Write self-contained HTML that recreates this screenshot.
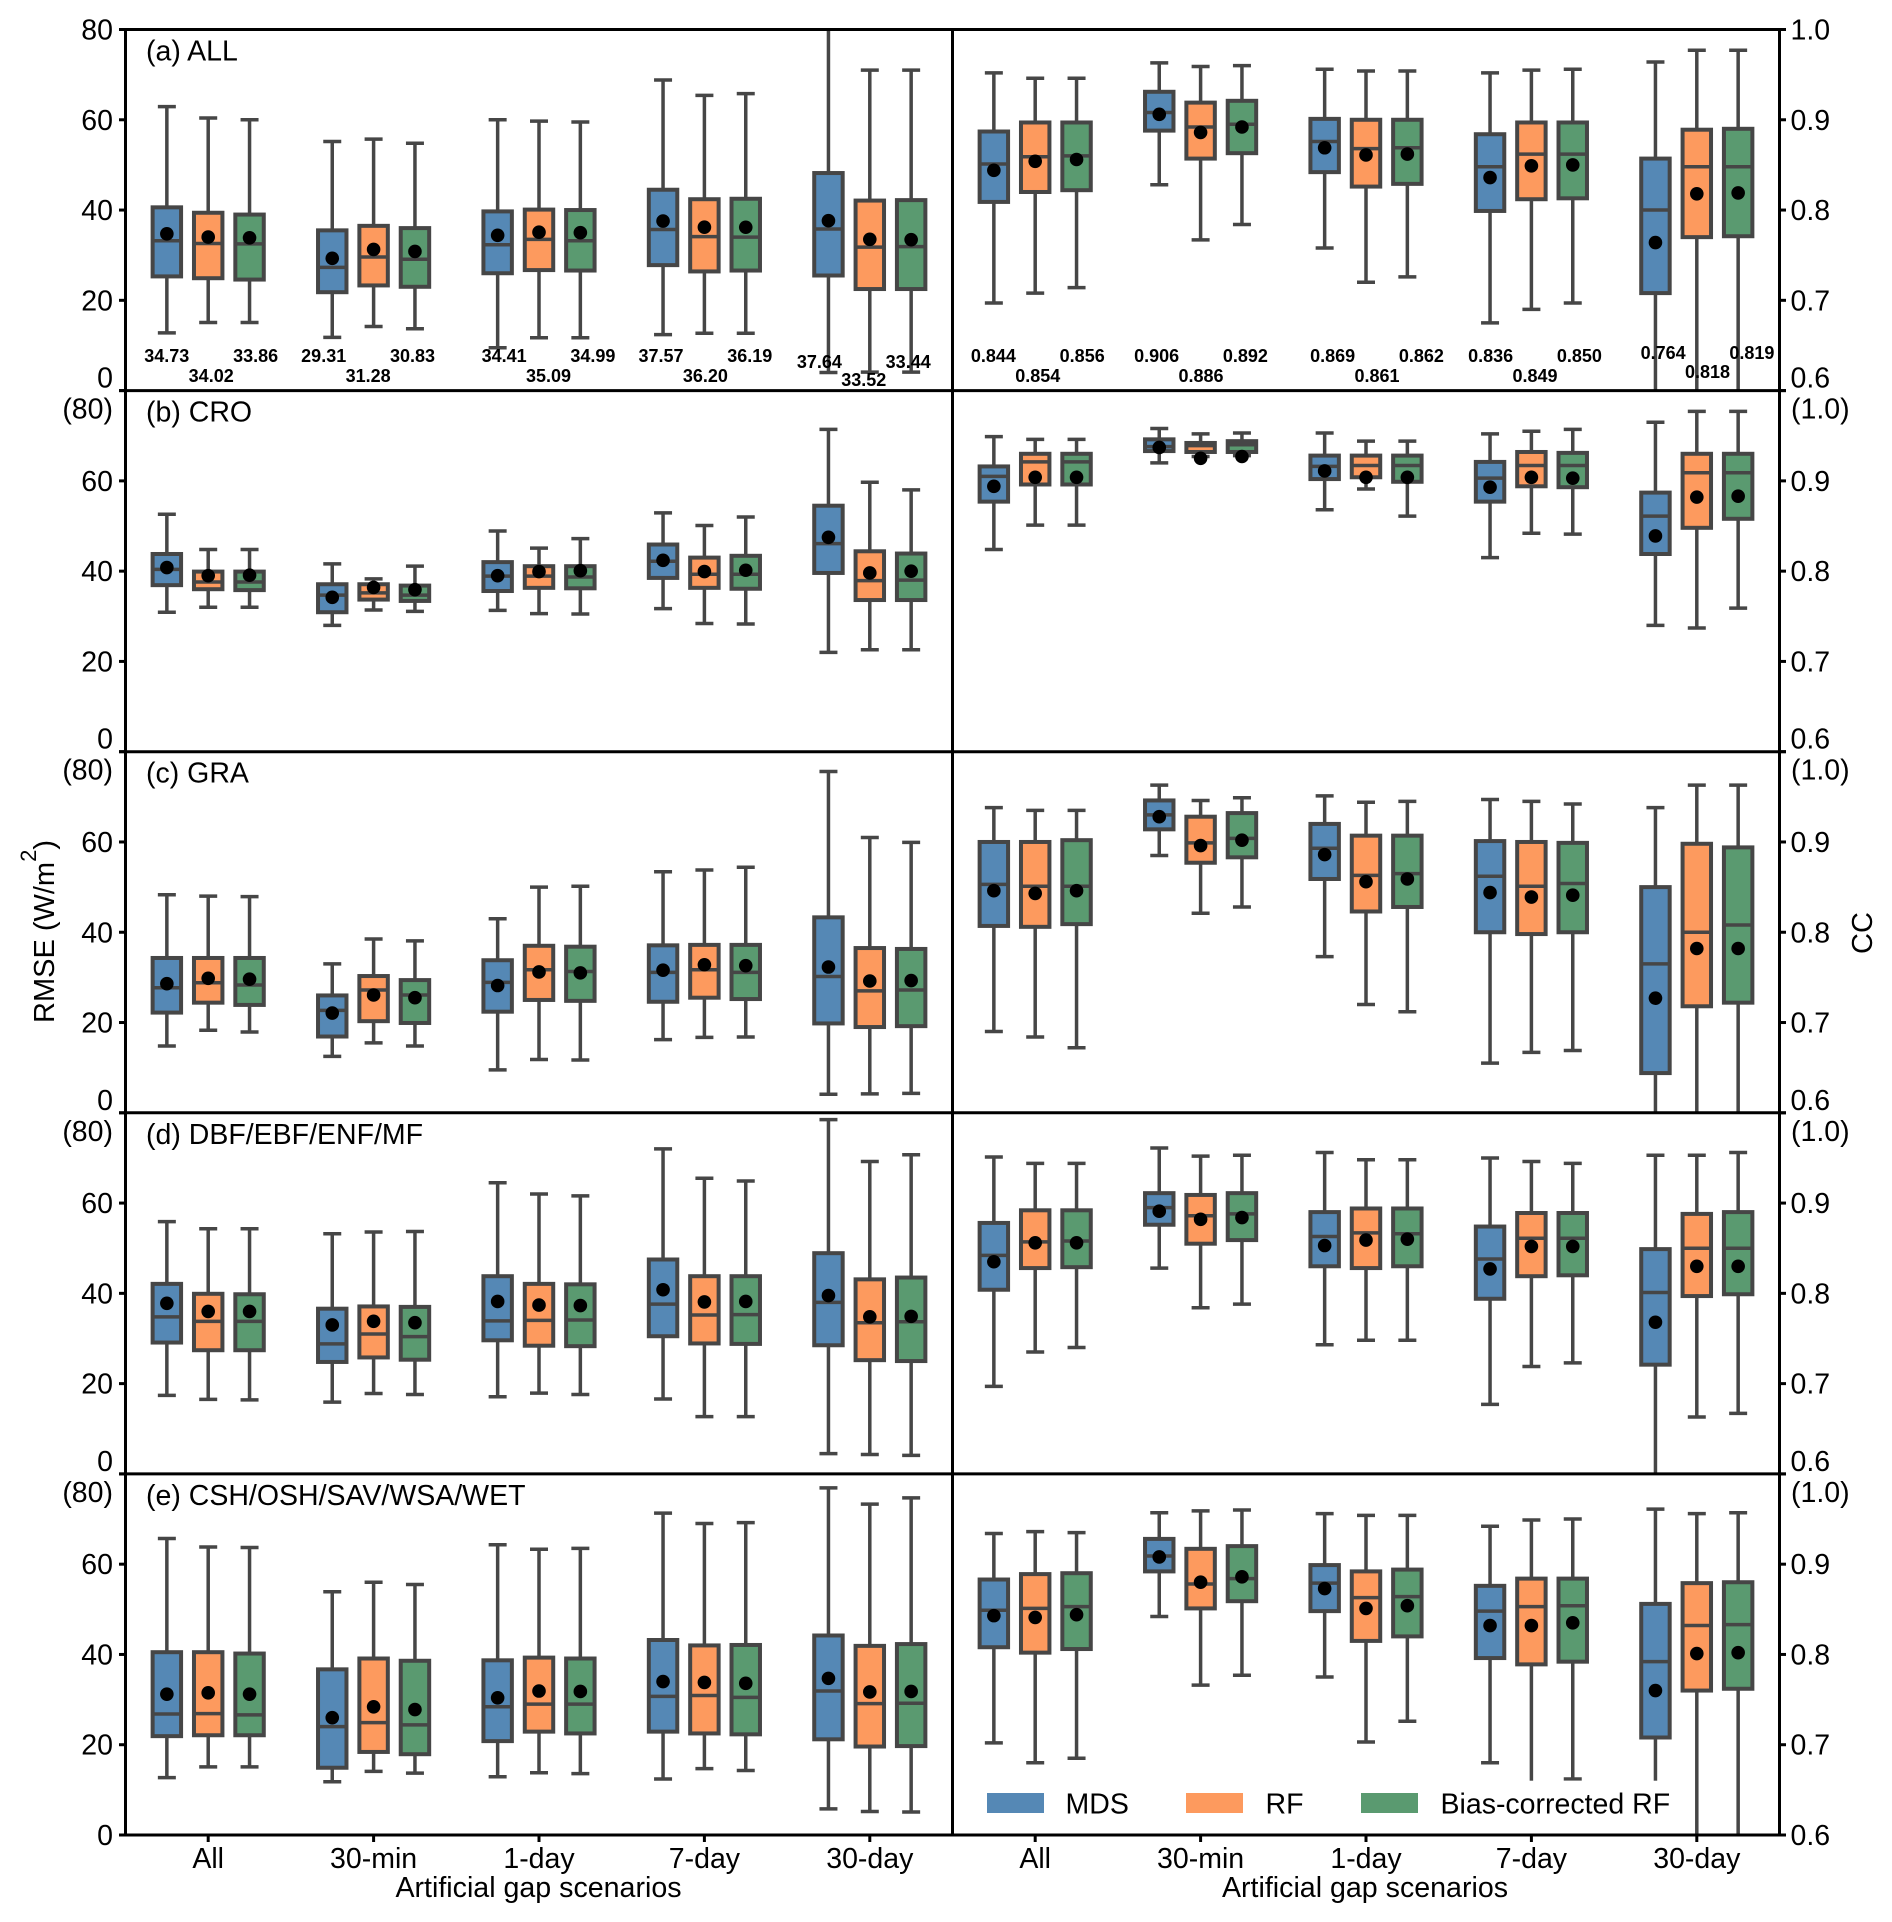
<!DOCTYPE html>
<html lang="en">
<head>
<meta charset="utf-8">
<title>RMSE and CC box plots by artificial gap scenario</title>
<style>
html,body{margin:0;padding:0;background:#fff}
svg{display:block;font-family:"Liberation Sans",Arial,sans-serif}
</style>
</head>
<body>
<svg id="chart" xmlns="http://www.w3.org/2000/svg" width="1892" height="1922" viewBox="0 0 1892 1922"></svg>
<script>
// Each row: [whisker low, Q1, median, Q3, whisker high, mean]; 15 rows = 5 scenarios x 3 methods
const categories = ['All', '30-min', '1-day', '7-day', '30-day'];
const seriesNames = ['MDS', 'RF', 'Bias-corrected RF'];
const rmseTickLabels = [0, 20, 40, 60, 80];
const ccTickLabels = ['0.6', '0.7', '0.8', '0.9', '1.0'];
const panelTitles = ['(a) ALL', '(b) CRO', '(c) GRA', '(d) DBF/EBF/ENF/MF', '(e) CSH/OSH/SAV/WSA/WET'];

const rmseAll = [
[12.8,25.3,33.2,40.6,62.9,34.73],[15.1,24.9,32.6,39.4,60.4,34.02],[15.1,24.6,32.5,39.0,60.0,33.86],
[11.8,21.8,27.3,35.5,55.2,29.31],[14.2,23.3,29.6,36.5,55.7,31.28],[13.7,23.0,29.1,36.0,54.8,30.83],
[9.5,26.0,32.3,39.7,60.0,34.41],[11.7,26.7,33.5,40.1,59.7,35.09],[11.7,26.6,33.2,40.0,59.5,34.99],
[12.4,27.8,35.7,44.5,68.8,37.57],[12.7,26.4,34.1,42.4,65.4,36.20],[12.7,26.6,34.0,42.5,65.8,36.19],
[4.0,25.5,35.8,48.2,84,37.64],[4.1,22.5,31.8,42.1,71.0,33.52],[4.1,22.5,31.9,42.2,71.0,33.44]];
const ccAll = [
[0.697,0.809,0.851,0.887,0.952,0.844],[0.708,0.820,0.859,0.897,0.946,0.854],[0.714,0.822,0.860,0.897,0.946,0.856],
[0.828,0.888,0.908,0.931,0.963,0.906],[0.767,0.857,0.892,0.919,0.959,0.886],[0.784,0.863,0.895,0.921,0.960,0.892],
[0.758,0.842,0.876,0.901,0.956,0.869],[0.720,0.826,0.868,0.900,0.954,0.861],[0.726,0.829,0.869,0.900,0.954,0.862],
[0.675,0.799,0.848,0.884,0.952,0.836],[0.690,0.812,0.862,0.897,0.955,0.849],[0.697,0.813,0.862,0.897,0.956,0.850],
[0.59,0.708,0.800,0.857,0.964,0.764],[0.59,0.770,0.848,0.889,0.977,0.818],[0.59,0.771,0.848,0.890,0.977,0.819]];

const rmseCro = [
[30.9,36.9,40.4,43.8,52.6,40.8],[32.0,36.0,37.6,39.9,44.8,39.0],[32.0,35.8,37.6,39.9,44.8,39.1],
[28.0,30.9,34.7,37.1,41.6,34.2],[31.4,33.7,35.2,37.1,38.3,36.4],[31.1,33.4,34.7,36.8,41.1,35.9],
[31.3,35.6,38.9,42.0,48.9,39.0],[30.6,36.3,38.9,41.1,45.1,39.9],[30.5,36.2,38.7,41.1,47.2,40.1],
[31.7,38.5,42.2,45.9,52.9,42.4],[28.4,36.3,39.3,43.0,50.1,39.9],[28.3,36.1,39.3,43.4,52.0,40.2],
[22.0,39.6,46.1,54.5,71.4,47.5],[22.6,33.6,37.9,44.4,59.7,39.6],[22.6,33.6,38.0,43.9,58.0,40.0]];
const ccCro = [
[0.824,0.877,0.905,0.916,0.949,0.894],[0.851,0.896,0.921,0.930,0.946,0.904],[0.851,0.896,0.921,0.930,0.946,0.904],
[0.920,0.933,0.938,0.946,0.958,0.937],[0.927,0.932,0.939,0.942,0.952,0.925],[0.928,0.932,0.940,0.944,0.953,0.927],
[0.868,0.902,0.916,0.928,0.953,0.911],[0.891,0.904,0.917,0.928,0.944,0.904],[0.861,0.899,0.917,0.928,0.944,0.904],
[0.815,0.877,0.903,0.921,0.952,0.893],[0.842,0.894,0.917,0.932,0.955,0.904],[0.841,0.893,0.917,0.931,0.957,0.903],
[0.740,0.819,0.861,0.887,0.965,0.839],[0.737,0.848,0.909,0.930,0.977,0.882],[0.759,0.858,0.909,0.930,0.977,0.883]];

const rmseGra = [
[14.8,22.2,27.7,34.3,48.3,28.6],[18.3,24.4,28.8,34.3,48.0,29.8],[17.9,23.9,28.3,34.3,47.9,29.6],
[12.5,16.9,22.7,26.0,33.0,22.1],[15.5,20.3,27.2,30.3,38.5,26.1],[14.8,19.9,26.1,29.4,38.1,25.5],
[9.5,22.4,28.9,33.8,43.0,28.2],[11.8,25.0,31.7,37.0,50.0,31.2],[11.7,24.8,31.3,36.8,50.2,31.0],
[16.2,24.6,31.1,37.1,53.4,31.6],[16.7,25.5,31.7,37.2,53.8,32.8],[16.8,25.2,31.1,37.2,54.4,32.6],
[4.1,19.8,30.2,43.3,75.6,32.3],[4.2,19.0,27.0,36.5,61.0,29.2],[4.3,19.2,27.2,36.3,59.9,29.3]];
const ccGra = [
[0.690,0.807,0.853,0.900,0.938,0.846],[0.684,0.806,0.851,0.900,0.935,0.843],[0.672,0.809,0.851,0.902,0.935,0.846],
[0.885,0.914,0.930,0.946,0.963,0.928],[0.821,0.877,0.899,0.928,0.946,0.896],[0.828,0.883,0.904,0.932,0.949,0.902],
[0.773,0.859,0.893,0.920,0.951,0.886],[0.720,0.823,0.863,0.907,0.944,0.856],[0.712,0.828,0.865,0.907,0.945,0.859],
[0.655,0.800,0.862,0.901,0.947,0.844],[0.667,0.798,0.851,0.900,0.945,0.839],[0.669,0.800,0.854,0.899,0.942,0.841],
[0.59,0.644,0.765,0.850,0.938,0.727],[0.59,0.718,0.800,0.898,0.963,0.782],[0.59,0.722,0.808,0.894,0.963,0.782]];

const rmseFor = [
[17.4,29.1,34.8,42.1,55.9,37.8],[16.5,27.4,33.8,39.9,54.3,36.0],[16.4,27.4,33.8,39.8,54.3,36.0],
[15.9,24.8,28.8,36.6,53.2,33.0],[17.8,25.8,31.0,37.1,53.6,33.8],[17.6,25.3,30.4,37.0,53.7,33.5],
[17.1,29.6,33.9,43.8,64.5,38.2],[17.9,28.4,34.0,42.1,62.0,37.4],[17.6,28.3,34.1,42.0,61.6,37.3],
[16.6,30.5,37.6,47.5,72.0,40.8],[12.7,28.9,35.2,43.8,65.5,38.1],[12.7,28.8,35.3,43.8,64.9,38.2],
[4.5,28.5,38.0,48.9,78.5,39.5],[4.3,25.2,33.5,43.1,69.2,34.8],[4.1,25.0,33.7,43.5,70.7,34.9]];
const ccFor = [
[0.697,0.804,0.842,0.878,0.951,0.835],[0.735,0.828,0.857,0.892,0.944,0.856],[0.740,0.829,0.858,0.892,0.944,0.856],
[0.828,0.876,0.895,0.911,0.961,0.891],[0.784,0.855,0.886,0.909,0.952,0.882],[0.788,0.859,0.888,0.911,0.953,0.884],
[0.743,0.830,0.863,0.890,0.956,0.853],[0.748,0.828,0.867,0.894,0.948,0.859],[0.748,0.830,0.866,0.894,0.948,0.860],
[0.677,0.794,0.838,0.874,0.950,0.827],[0.719,0.819,0.861,0.889,0.946,0.852],[0.723,0.820,0.861,0.889,0.944,0.852],
[0.59,0.721,0.801,0.849,0.953,0.768],[0.663,0.797,0.850,0.888,0.953,0.830],[0.667,0.799,0.850,0.890,0.956,0.830]];

const rmseShr = [
[12.7,21.9,26.8,40.5,65.7,31.2],[15.1,22.1,26.9,40.5,63.8,31.5],[15.1,22.1,26.6,40.2,63.7,31.2],
[11.8,14.9,24.0,36.7,53.9,26.0],[14.1,18.4,24.9,39.1,56.0,28.4],[13.7,17.9,24.4,38.6,55.5,27.8],
[12.9,20.8,28.4,38.7,64.3,30.4],[13.8,22.9,29.0,39.3,63.3,31.9],[13.6,22.5,29.0,39.1,63.5,31.8],
[12.4,22.9,30.7,43.2,71.3,34.0],[14.7,22.5,30.9,42.0,69.0,33.8],[14.3,22.3,30.5,42.1,69.2,33.6],
[5.8,21.2,31.9,44.2,76.9,34.7],[5.2,19.6,29.1,41.9,73.3,31.7],[5.1,19.7,29.2,42.3,74.7,31.8]];
const ccShr = [
[0.702,0.808,0.849,0.883,0.934,0.843],[0.680,0.802,0.851,0.889,0.936,0.841],[0.685,0.806,0.853,0.890,0.935,0.844],
[0.842,0.892,0.909,0.928,0.957,0.908],[0.766,0.851,0.878,0.917,0.959,0.880],[0.777,0.859,0.884,0.920,0.960,0.886],
[0.775,0.848,0.879,0.899,0.956,0.873],[0.703,0.815,0.863,0.892,0.954,0.851],[0.726,0.820,0.864,0.894,0.954,0.854],
[0.680,0.796,0.848,0.876,0.942,0.832],[0.655,0.789,0.853,0.884,0.949,0.832],[0.662,0.792,0.854,0.884,0.950,0.835],
[0.65,0.708,0.792,0.856,0.961,0.760],[0.59,0.760,0.832,0.879,0.956,0.801],[0.59,0.762,0.833,0.880,0.957,0.802]];

const rmsePanels = [rmseAll, rmseCro, rmseGra, rmseFor, rmseShr];
const ccPanels = [ccAll, ccCro, ccGra, ccFor, ccShr];

// ---- layout (not data) ----
const NS = 'http://www.w3.org/2000/svg';
const svg = document.getElementById('chart');
const seriesFill = ['#5588b5', '#fd9a5e', '#5a9a70'];
const lineColor = '#464646';
const plotTop = 29.5, panelH = 361.1, unitW = 165.4;
const originX = [125.5, 952.5];
const rmseRange = [0, 80], ccRange = [0.6, 1.0];
const seriesOffsets = [-0.25, 0, 0.25];
const boxW = 0.172, capW = 18;

function panelTop(i) { return plotTop + i * panelH; }
function xScale(col, pos) { return originX[col] + (pos + 0.5) * unitW; }
function yScale(i, range, v) { return panelTop(i) + panelH - (v - range[0]) / (range[1] - range[0]) * panelH; }

function add(parent, tag, attrs, text) {
  const e = document.createElementNS(NS, tag);
  for (const k in attrs) e.setAttribute(k, attrs[k]);
  if (text !== undefined) e.textContent = text;
  parent.appendChild(e);
  return e;
}
const defs = add(svg, 'defs', {});

function drawBox(parent, col, i, range, cat, s, row, clipId) {
  const cx = xScale(col, cat + seriesOffsets[s]);
  const halfW = boxW * unitW / 2;
  const [lo, q1, med, q3, hi, mean] = row;
  const g = add(parent, 'g', { 'clip-path': 'url(#' + clipId + ')' });
  
  
  const yv = v => yScale(i, range, v);
  const line = (x1, y1, x2, y2, name) => {
    const l = add(g, 'line', { x1: x1, y1: y1, x2: x2, y2: y2, stroke: lineColor, 'stroke-width': 3.5 });
    
    
  };
  line(cx, yv(q1), cx, yv(lo), 'lower-whisker');
  line(cx, yv(q3), cx, yv(hi), 'upper-whisker');
  line(cx - capW / 2, yv(lo), cx + capW / 2, yv(lo), 'lower-cap');
  line(cx - capW / 2, yv(hi), cx + capW / 2, yv(hi), 'upper-cap');
  const r = add(g, 'rect', { x: cx - halfW, y: yv(q3), width: 2 * halfW, height: yv(q1) - yv(q3), fill: seriesFill[s], stroke: lineColor, 'stroke-width': 4 });
  
  
  line(cx - halfW, yv(med), cx + halfW, yv(med), 'median-line');
  const c = add(g, 'circle', { cx: cx, cy: yv(mean), r: 6.8, fill: '#000' });
  
  
}

function drawPanelMarks(col, i, rows, range) {
  const clipId = 'clip-' + col + '-' + i;
  const cp = add(defs, 'clipPath', { id: clipId });
  add(cp, 'rect', { x: originX[col], y: panelTop(i), width: 827, height: panelH });
  const g = add(svg, 'g', {});
  
  
  rows.forEach((row, k) => drawBox(g, col, i, range, Math.floor(k / 3), k % 3, row, clipId));
}

for (let i = 0; i < 5; i++) {
  drawPanelMarks(0, i, rmsePanels[i], rmseRange);
  drawPanelMarks(1, i, ccPanels[i], ccRange);
}

// Printed mean values in panel (a)
const annotShift = [[3, -5.5, 9.5, 1, -6], [2.6, 0.4, 11, 3.6, 10.7]];
const annotRowY = [[[356, 376], [356, 376], [356, 376], [356, 376], [361.7, 380]],
                   [[356, 376], [356, 376], [356, 376], [356, 376], [352.7, 372]]];
const annotSpread = 44.4;
[rmseAll, ccAll].forEach((rows, col) => {
  rows.forEach((row, k) => {
    const cat = Math.floor(k / 3), s = k % 3;
    const x = xScale(col, cat) + annotShift[col][cat] + (s - 1) * annotSpread;
    const y = annotRowY[col][cat][s === 1 ? 1 : 0] + 6.2;
    const t = add(svg, 'text', { x: x, y: y, 'text-anchor': 'middle', 'font-size': 18, 'font-weight': 'bold', fill: '#000' }, row[5].toFixed(col === 0 ? 2 : 3));
    
    
  });
});

// Legend (opaque white frame hides whiskers behind it, as in the original)
const legend = add(svg, 'g', {});


const legendBg = add(legend, 'rect', { x: 978, y: 1780.7, width: 702, height: 52, fill: '#fff' });


const legendPatchX = [987, 1186, 1361];
const legendTextX = [1065.5, 1265.5, 1440.5];
seriesNames.forEach((name, s) => {
  const p = add(legend, 'rect', { x: legendPatchX[s], y: 1793, width: 57, height: 20, fill: seriesFill[s] });
  
  
  const t = add(legend, 'text', { x: legendTextX[s], y: 1813.5, 'font-size': 28.5, fill: '#000' }, name);
  
  
});

// Spines
const spines = add(svg, 'g', { stroke: '#000', 'stroke-width': 3 });


for (let i = 0; i <= 5; i++) {
  add(spines, 'line', { x1: 125.5, x2: 1779.5, y1: panelTop(i), y2: panelTop(i) });
}
[125.5, 952.5, 1779.5].forEach(x => add(spines, 'line', { x1: x, x2: x, y1: plotTop - 1.5, y2: panelTop(5) + 1.5 }));

// Y ticks & labels
for (let i = 0; i < 5; i++) {
  rmseTickLabels.forEach((v, k) => {
    const y = yScale(i, rmseRange, v);
    add(spines, 'line', { x1: 119, x2: 125.5, y1: y, y2: y });
    if (i > 0 && k === 4) {
      const t = add(svg, 'text', { x: 113, y: y + 18 + 10, 'text-anchor': 'end', 'font-size': 28.5 }, '(' + v + ')');
      
      
      return;
    }
    const shift = (k === 0 && i < 4) ? -13 : 0;
    const t = add(svg, 'text', { x: 113, y: y + shift + 10, 'text-anchor': 'end', 'font-size': 28.5 }, String(v));
    
    
  });
  ccTickLabels.forEach((lab, k) => {
    const y = yScale(i, ccRange, parseFloat(lab));
    add(spines, 'line', { x1: 1779.5, x2: 1786, y1: y, y2: y });
    if (i > 0 && k === 4) {
      const t = add(svg, 'text', { x: 1791, y: y + 18 + 10, 'font-size': 28.5 }, '(' + lab + ')');
      
      
      return;
    }
    const shift = (k === 0 && i < 4) ? -13 : 0;
    const t = add(svg, 'text', { x: 1790.5, y: y + shift + 10, 'font-size': 28.5 }, lab);
    
    
  });
  const title = add(svg, 'text', { x: 146, y: panelTop(i) + 31, 'font-size': 28.5 }, panelTitles[i]);
  
  
}

// X ticks & labels
[0, 1].forEach(col => {
  categories.forEach((name, c) => {
    const x = xScale(col, c);
    add(spines, 'line', { x1: x, x2: x, y1: panelTop(5), y2: panelTop(5) + 7 });
    const t = add(svg, 'text', { x: x, y: 1868, 'text-anchor': 'middle', 'font-size': 28.5 }, name);
    
    
  });
  const xt = add(svg, 'text', { x: col === 0 ? 538.5 : 1365, y: 1897, 'text-anchor': 'middle', 'font-size': 28.6 }, 'Artificial gap scenarios');
  
  
});

// Y axis titles
const yT = add(svg, 'text', { transform: 'translate(54,1023) rotate(-90)', 'font-size': 29 });


add(yT, 'tspan', {}, 'RMSE (W/m');
add(yT, 'tspan', { dy: -18, 'font-size': 22 }, '2');
add(yT, 'tspan', { dy: 18 }, ')');
const ccT = add(svg, 'text', { transform: 'translate(1872,933) rotate(-90)', 'text-anchor': 'middle', 'font-size': 29 }, 'CC');


</script>
</body>
</html>
